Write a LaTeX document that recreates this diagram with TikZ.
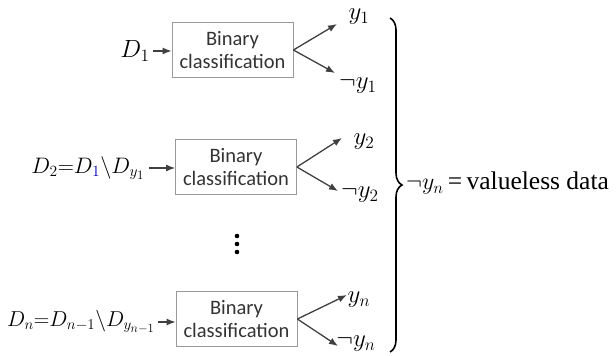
\documentclass[tikz,border=0pt]{standalone}
\usepackage{fontspec}
\setmainfont{Liberation Serif}
\newfontfamily\calibri{Carlito}
\usetikzlibrary{arrows.meta,decorations.pathreplacing}
\newcommand{\mymath}[2]{\scalebox{#1}{\fontsize{20.74}{25}\selectfont$#2$}}
\begin{document}
\begin{tikzpicture}[x=1pt,y=-1pt,
  cls/.style={draw=black!40, line width=0.8pt, minimum width=121pt, minimum height=55pt,
    align=center, font=\calibri\fontsize{20.5}{23}\selectfont, text=black!80, inner sep=0pt},
  arr/.style={-{Latex[length=9pt,width=7pt]}, draw=black!75, line width=1.3pt},
  lab/.style={inner sep=0pt},
  outl/.style={inner sep=0pt}
]
\useasboundingbox (0,0) rectangle (616,356);

% boxes
\node[cls] (b1) at (232.5,50) {Binary\\classification};
\node[cls] (b2) at (236,167) {Binary\\classification};
\node[cls] (b3) at (236.5,319) {Binary\\classification};

% inputs
\node[lab] (d1) at (135,51) {\mymath{1.2}{D_1}};
\node[lab] (d2) at (88,168) {\mymath{1.08}{D_2{=}D_{\textcolor{blue!70!black}{1}}\backslash D_{y_1}}};
\node[lab] (dn) at (81,322) {\mymath{1.04}{D_n{=}D_{n-1}\backslash D_{y_{n-1}}}};
\draw[arr] (d1.east) ++(3,0) -- (b1.west |- d1.east);
\draw[arr] (d2.east) ++(4,0) -- (b2.west |- d2.east);
\draw[arr] (dn.east) ++(3,0) -- (b3.west |- dn.east);

% outputs
\node[outl] (y1) at (359,17) {\mymath{1.2}{y_1}};
\node[outl] (ny1) at (358,86) {\mymath{1.2}{\neg y_1}};
\node[outl] (y2) at (364,142) {\mymath{1.2}{y_2}};
\node[outl] (ny2) at (360,195) {\mymath{1.2}{\neg y_2}};
\node[outl] (yn) at (359,300) {\mymath{1.2}{y_n}};
\node[outl] (nyn) at (356,344) {\mymath{1.2}{\neg y_n}};

\coordinate (t1u) at (337,24);
\coordinate (t1l) at (335,73);
\coordinate (t2u) at (342,138);
\coordinate (t2l) at (338,191);
\coordinate (t3u) at (347,295);
\coordinate (t3l) at (338,346);
\draw[arr] (b1.east) -- (t1u);
\draw[arr] (b1.east) -- (t1l);
\draw[arr] (b2.east) -- (t2u);
\draw[arr] (b2.east) -- (t2l);
\draw[arr] (b3.east) -- (t3u);
\draw[arr] (b3.east) -- (t3l);

% dots
\fill (237,236) circle (2.3);
\fill (237,244) circle (2.3);
\fill (237,252) circle (2.3);

% brace
\draw[decorate, decoration={brace, amplitude=12pt}, line width=1.6pt] (390,18) -- (390,352);
\node[anchor=west, inner sep=0pt, font=\fontsize{25.5}{29}\selectfont] (res) at (406,183)
  {\mymath{1.15}{\neg y_n}\,=\,valueless data};
\end{tikzpicture}
\end{document}
